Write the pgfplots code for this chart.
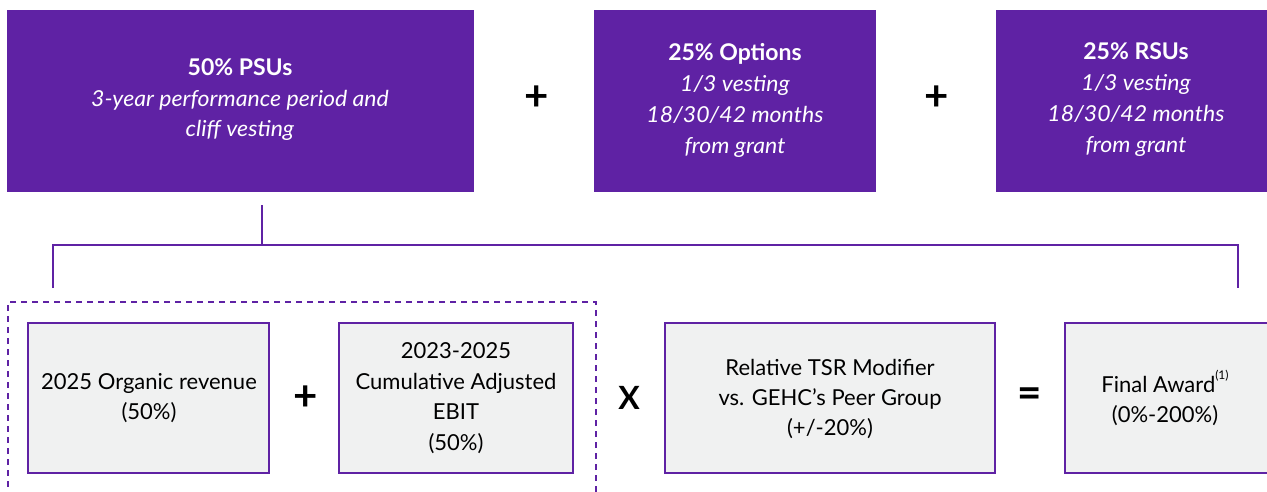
\documentclass[border=0pt]{standalone}
\usepackage{pgfplots}
\pgfplotsset{compat=1.18}
\usepackage{fontspec}
\setmainfont{Lato}[ItalicFeatures={FakeStretch=1.05}]
\definecolor{gpurple}{HTML}{5F22A4}
\definecolor{ggray}{HTML}{F0F1F1}
\begin{document}
\begin{tikzpicture}
\begin{axis}[
  width=1267pt, height=492pt, scale only axis,
  xmin=0, xmax=1267, ymin=0, ymax=492, y dir=reverse,
  hide axis, clip=true,
]
% top purple boxes
\addplot[draw=none, fill=gpurple] coordinates {(7,10) (474,10) (474,192) (7,192)} -- cycle;
\addplot[draw=none, fill=gpurple] coordinates {(594,10) (876,10) (876,192) (594,192)} -- cycle;
\addplot[draw=none, fill=gpurple] coordinates {(996,10) (1267,10) (1267,192) (996,192)} -- cycle;
% connector
\addplot[gpurple, line width=2pt] coordinates {(262,205) (262,245)};
\addplot[gpurple, line width=2pt] coordinates {(53,288) (53,245) (1238,245) (1238,288)};
% dashed frame
\addplot[gpurple, line width=2pt, dash pattern=on 6pt off 5pt] coordinates {(596,492) (596,302) (8,302) (8,492)};
% gray boxes
\addplot[draw=gpurple, line width=2pt, fill=ggray] coordinates {(28,323) (269,323) (269,473) (28,473)} -- cycle;
\addplot[draw=gpurple, line width=2pt, fill=ggray] coordinates {(339,323) (573,323) (573,473) (339,473)} -- cycle;
\addplot[draw=gpurple, line width=2pt, fill=ggray] coordinates {(665,323) (995,323) (995,473) (665,473)} -- cycle;
\addplot[draw=none, fill=ggray] coordinates {(1065,323) (1267,323) (1267,473) (1065,473)} -- cycle;
\addplot[draw=gpurple, line width=2pt] coordinates {(1267,323) (1065,323) (1065,473) (1267,473)};
% texts top
\node[text=white, align=center, font=\fontsize{22}{30.5}\selectfont] at (axis cs:240,100)
  {{\fontsize{23}{30.5}\selectfont\textbf{50\% PSUs}}\\\textit{3-year performance period and}\\\textit{cliff vesting}};
\node[text=white, align=center, font=\fontsize{22}{31}\selectfont] at (axis cs:735,100)
  {{\fontsize{23}{31}\selectfont\textbf{25\% Options}}\\\textit{1/3 vesting}\\\textit{18/30/42 months}\\\textit{from grant}};
\node[text=white, align=center, font=\fontsize{22}{31}\selectfont] at (axis cs:1136,100)
  {{\fontsize{23}{31}\selectfont\textbf{25\% RSUs}}\\\textit{1/3 vesting}\\\textit{18/30/42 months}\\\textit{from grant}};
% operators
\node[font=\fontsize{42}{42}\selectfont\bfseries] at (axis cs:537,98) {+};
\node[font=\fontsize{42}{42}\selectfont\bfseries] at (axis cs:937,98) {+};
\node[font=\fontsize{42}{42}\selectfont\bfseries] at (axis cs:306,398) {+};
\node[font=\fontsize{32}{32}\selectfont\bfseries] at (axis cs:629,398) {X};
\node[font=\fontsize{42}{42}\selectfont\bfseries] at (axis cs:1030,398) {=};
% bottom texts
\node[align=center, font=\fontsize{22}{30}\selectfont] at (axis cs:149,398)
  {2025 Organic revenue\\(50\%)};
\node[align=center, font=\fontsize{22}{30.5}\selectfont] at (axis cs:456,398)
  {2023-2025\\Cumulative Adjusted\\EBIT\\(50\%)};
\node[align=center, font=\fontsize{22}{30}\selectfont] at (axis cs:830,399)
  {Relative TSR Modifier\\vs. GEHC’s Peer Group\\(+/-20\%)};
\node[align=center, font=\fontsize{22}{30}\selectfont] at (axis cs:1165,398)
  {Final Award\raisebox{1.1ex}{\fontsize{12}{12}\selectfont(1)}\\(0\%-200\%)};
\end{axis}
\pgfresetboundingbox
\path (current axis.south west) rectangle (current axis.north east);
\end{tikzpicture}
\end{document}
